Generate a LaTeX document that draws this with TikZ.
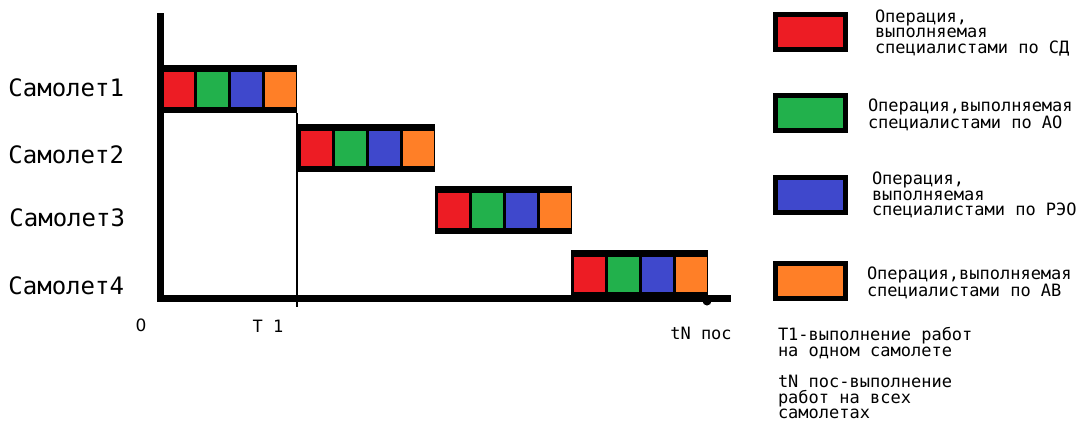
\documentclass[tikz,border=0pt]{standalone}
\usepackage{fontspec}
\setmainfont{DejaVu Sans Mono}
\newfontfamily\zerofont{DejaVu Sans}
\definecolor{opred}{HTML}{ED1C24}
\definecolor{opgreen}{HTML}{22B14C}
\definecolor{opblue}{HTML}{3F48CC}
\definecolor{oporange}{HTML}{FF7F27}
\tikzset{
  every node/.style={inner sep=0pt, outer sep=0pt},
  barframe/.style={fill=black, minimum width=137pt, minimum height=48pt, anchor=north west},
  cell/.style={minimum width=31pt, minimum height=35pt, anchor=north west},
  legbox/.style={draw=black, line width=5pt, minimum width=70pt, minimum height=35pt},
  planelabel/.style={font=\fontsize{24}{27}\selectfont, anchor=east},
  legtext/.style={font=\fontsize{17}{15.8}\selectfont, align=left, anchor=west},
  ticklabel/.style={font=\fontsize{17}{19}\selectfont},
  axisline/.style={line width=7pt, line join=miter},
  markline/.style={line width=1.1pt},
}
\newcommand{\opbar}[3]{%
  \node[barframe] (#1) at (#2,#3) {};
  \node[cell, fill=opred]    (#1r) at (#2+3,#3+7) {};
  \node[cell, fill=opgreen]  (#1g) at (#2+37,#3+7) {};
  \node[cell, fill=opblue]   (#1b) at (#2+71,#3+7) {};
  \node[cell, fill=oporange] (#1o) at (#2+105,#3+7) {};
}
\begin{document}
\begin{tikzpicture}[x=1pt, y=-1pt]
\useasboundingbox[fill=white] (0,0) rectangle (1081,423);

% bars
\opbar{b1}{160}{65}
\opbar{b2}{298}{124}
\opbar{b3}{435}{186}
\opbar{b4}{571}{250}

% axes
\coordinate (ytop) at (160,13);
\coordinate (origin) at (160,298);
\coordinate (xend) at (731,298);
\draw[axisline] (ytop) -- (origin) -- (xend);

% T1 mark
\coordinate (t1foot) at (299,307);
\draw[markline] (b1.south east) -- (b1.south east |- t1foot);

% tN dot
\node[circle, fill=black, minimum size=9pt] (tNdot) at (707,301) {};

% plane labels
\node[planelabel] (l1) at (124,88) {Самолет1};
\node[planelabel] (l2) at (124,155) {Самолет2};
\node[planelabel] (l3) at (125,218) {Самолет3};
\node[planelabel] (l4) at (124,286) {Самолет4};

% tick labels
\node[ticklabel] (z0) at (141,325) {\zerofont 0};
\node[ticklabel] (t1) at (268,326) {T 1};
\node[ticklabel] (tN) at (701,333) {tN пос};

% legend
\node[legbox, fill=opred]    (k1) at (810.5,32) {};
\node[legbox, fill=opgreen]  (k2) at (810.5,113) {};
\node[legbox, fill=opblue]   (k3) at (810.5,195) {};
\node[legbox, fill=oporange] (k4) at (810.5,281) {};

\node[legtext] (d1) at (875,33) {Операция,\\выполняемая\\специалистами по СД};
\node[legtext] (d2) at (868,115) {Операция,выполняемая\\специалистами по АО};
\node[legtext] (d3) at (872,195) {Операция,\\выполняемая\\специалистами по РЭО};
\node[legtext] (d4) at (867,283) {Операция,выполняемая\\специалистами по АВ};
\node[legtext] (n1) at (778,343) {T1-выполнение работ\\на одном самолете};
\node[legtext] (n2) at (778,397) {tN пос-выполнение\\работ на всех\\самолетах};
\end{tikzpicture}
\end{document}
